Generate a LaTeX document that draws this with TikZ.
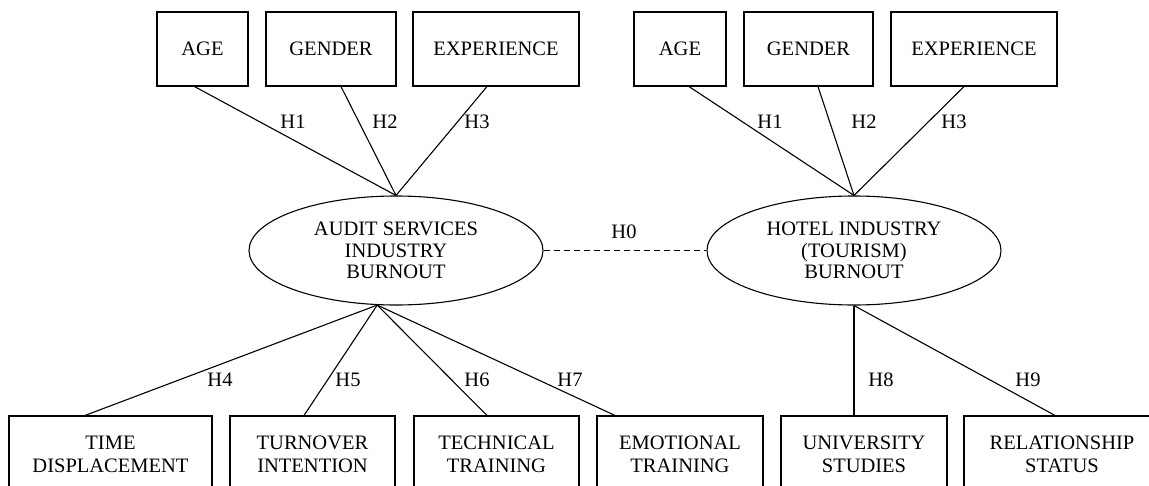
\documentclass[tikz,border=0pt]{standalone}
\usepackage{fontspec}
\setmainfont{Liberation Serif}
\usetikzlibrary{shapes.geometric,calc}
\begin{document}
\begin{tikzpicture}[x=1pt,y=-1pt,
  font=\fontsize{20.5}{21.5}\selectfont,
  ln/.style={line width=1.1pt},
  topbox/.style={draw, line width=1.1pt, rectangle, inner sep=0pt, minimum height=74pt, align=center},
  botbox/.style={draw, line width=1.1pt, rectangle, inner sep=0pt, minimum height=76pt, align=center, font=\fontsize{20.5}{23}\selectfont},
  burn/.style={draw, line width=1.1pt, ellipse, inner sep=0pt, minimum width=294pt, minimum height=109pt, align=center},
  hlab/.style={inner sep=0pt}]
\useasboundingbox (0,0) rectangle (1149,485);

% top boxes left
\node[topbox, minimum width=91pt] (ageA) at (202.5,49) {AGE};
\node[topbox, minimum width=130pt] (genA) at (331,49) {GENDER};
\node[topbox, minimum width=166pt] (expA) at (496,49) {EXPERIENCE};
% top boxes right
\node[topbox, minimum width=92pt] (ageB) at (680,49) {AGE};
\node[topbox, minimum width=129pt] (genB) at (808.5,49) {GENDER};
\node[topbox, minimum width=166pt] (expB) at (974,49) {EXPERIENCE};

% ellipses
\node[burn] (aud) at (396,250.5) {AUDIT SERVICES\\INDUSTRY\\BURNOUT};
\node[burn] (hot) at (854,250.5) {HOTEL INDUSTRY\\(TOURISM)\\BURNOUT};

% bottom boxes
\node[botbox, minimum width=203pt] (time) at (110.5,454) {TIME\\DISPLACEMENT};
\node[botbox, minimum width=165pt] (turn) at (312.5,454) {TURNOVER\\INTENTION};
\node[botbox, minimum width=165pt] (tech) at (496.5,454) {TECHNICAL\\TRAINING};
\node[botbox, minimum width=166pt] (emo) at (680,454) {EMOTIONAL\\TRAINING};
\node[botbox, minimum width=166pt] (uni) at (864,454) {UNIVERSITY\\STUDIES};
\node[botbox, minimum width=196pt] (rel) at (1062,454) {RELATIONSHIP\\STATUS};

% connectors top
\draw[ln] ([xshift=-8pt]ageA.south) -- (aud.north);
\draw[ln] ([xshift=10pt]genA.south) -- (aud.north);
\draw[ln] ([xshift=-9pt]expA.south) -- (aud.north);
\draw[ln] ([xshift=9pt]ageB.south) -- (hot.north);
\draw[ln] ([xshift=9.5pt]genB.south) -- (hot.north);
\draw[ln] ([xshift=-10pt]expB.south) -- (hot.north);

% dashed
\draw[ln, dash pattern=on 6pt off 4pt] (aud.east) -- (hot.west);

% connectors bottom
\draw[ln] (aud.251) -- ([xshift=-25.5pt]time.north);
\draw[ln] (aud.251) -- ([xshift=-8.5pt]turn.north);
\draw[ln] (aud.251) -- ([xshift=-9.5pt]tech.north);
\draw[ln] (aud.251) -- ([xshift=-65pt]emo.north);
\draw[ln] (hot.south) -- ([xshift=-10pt]uni.north);
\draw[ln] (hot.south) -- ([xshift=-7pt]rel.north);

% labels
\node[hlab] (h1a) at (293,122) {H1};
\node[hlab] (h2a) at (385,122) {H2};
\node[hlab] (h3a) at (477,122) {H3};
\node[hlab] (h1b) at (770,122) {H1};
\node[hlab] (h2b) at (864,122) {H2};
\node[hlab] (h3b) at (954,122) {H3};
\node[hlab] (h0) at (624,232) {H0};
\node[hlab] (h4) at (220,380) {H4};
\node[hlab] (h5) at (348,380) {H5};
\node[hlab] (h6) at (477,380) {H6};
\node[hlab] (h7) at (570,380) {H7};
\node[hlab] (h8) at (881,380) {H8};
\node[hlab] (h9) at (1028,380) {H9};
\end{tikzpicture}
\end{document}
